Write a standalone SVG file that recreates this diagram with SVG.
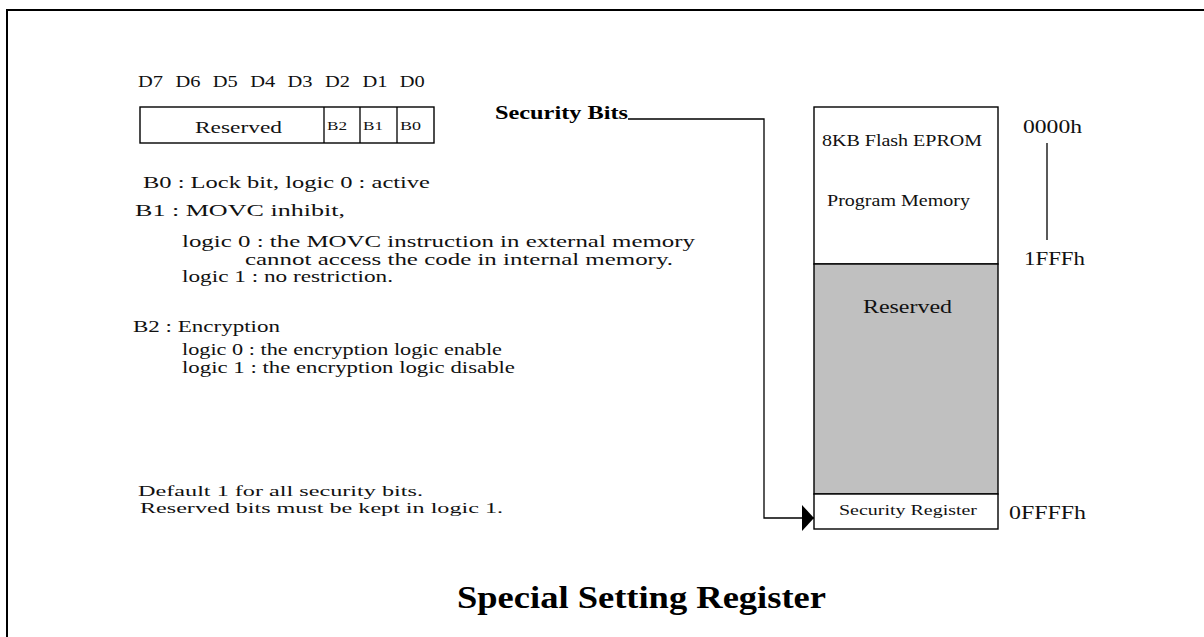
<svg xmlns="http://www.w3.org/2000/svg" width="1204" height="637" viewBox="0 0 1204 637">
<defs>
<style>
.t{font-family:"Liberation Serif","Times New Roman",serif;fill:#111;}
.b{font-family:"Liberation Serif","Times New Roman",serif;font-weight:bold;fill:#000;}
.box{fill:#fff;stroke:#000;stroke-width:1.4;}
.ln{fill:none;stroke:#000;stroke-width:1.3;}
</style>
<marker id="arr" markerWidth="12" markerHeight="26" refX="12" refY="13" orient="auto" markerUnits="userSpaceOnUse">
<path d="M0,0 L12,13 L0,26 Z" fill="#000"/>
</marker>
</defs>
<rect width="1204" height="637" fill="#fff"/>
<path d="M7,637 V10 H1204" fill="none" stroke="#000" stroke-width="2"/>

<g id="bit-labels" class="t" font-size="16">
<text x="138" y="87" textLength="25" lengthAdjust="spacingAndGlyphs">D7</text>
<text x="175.4" y="87" textLength="25" lengthAdjust="spacingAndGlyphs">D6</text>
<text x="212.8" y="87" textLength="25" lengthAdjust="spacingAndGlyphs">D5</text>
<text x="250.2" y="87" textLength="25" lengthAdjust="spacingAndGlyphs">D4</text>
<text x="287.6" y="87" textLength="25" lengthAdjust="spacingAndGlyphs">D3</text>
<text x="325" y="87" textLength="25" lengthAdjust="spacingAndGlyphs">D2</text>
<text x="362.4" y="87" textLength="25" lengthAdjust="spacingAndGlyphs">D1</text>
<text x="399.8" y="87" textLength="25" lengthAdjust="spacingAndGlyphs">D0</text>
</g>

<g id="register-table">
<rect class="box" x="140" y="107" width="294" height="36"/>
<path class="ln" d="M324,107 V143 M360,107 V143 M397,107 V143"/>
<text class="t" x="195" y="133" font-size="17" textLength="87" lengthAdjust="spacingAndGlyphs">Reserved</text>
<text class="t" x="327" y="130" font-size="13" textLength="20" lengthAdjust="spacingAndGlyphs">B2</text>
<text class="t" x="363" y="130" font-size="13" textLength="20" lengthAdjust="spacingAndGlyphs">B1</text>
<text class="t" x="400" y="130" font-size="13" textLength="21" lengthAdjust="spacingAndGlyphs">B0</text>
</g>

<g id="bit-descriptions" class="t" font-size="16.5">
<text x="143" y="188" textLength="287" lengthAdjust="spacingAndGlyphs">B0 : Lock bit, logic 0 : active</text>
<text x="135" y="216" textLength="210" lengthAdjust="spacingAndGlyphs">B1 : MOVC inhibit,</text>
<text x="182" y="247" textLength="513" lengthAdjust="spacingAndGlyphs">logic 0 : the MOVC instruction in external memory</text>
<text x="245" y="265" textLength="428" lengthAdjust="spacingAndGlyphs">cannot access the code in internal memory.</text>
<text x="182" y="282" textLength="211" lengthAdjust="spacingAndGlyphs">logic 1 : no restriction.</text>
<text x="133" y="332" textLength="147" lengthAdjust="spacingAndGlyphs">B2 : Encryption</text>
<text x="182" y="355" textLength="320" lengthAdjust="spacingAndGlyphs">logic 0 : the encryption logic enable</text>
<text x="182" y="373" textLength="333" lengthAdjust="spacingAndGlyphs">logic 1 : the encryption logic disable</text>
</g>

<g id="notes" class="t" font-size="15">
<text x="138" y="496" textLength="285" lengthAdjust="spacingAndGlyphs">Default 1 for all security bits.</text>
<text x="140" y="513" textLength="363" lengthAdjust="spacingAndGlyphs">Reserved bits must be kept in logic 1.</text>
</g>

<g id="security-bits-label">
<text class="b" x="495" y="119" font-size="18" textLength="133" lengthAdjust="spacingAndGlyphs">Security Bits</text>
</g>

<g id="memory-map">
<rect class="box" x="814" y="107" width="184" height="157"/>
<rect x="814" y="264" width="184" height="230" fill="#c0c0c0" stroke="#000" stroke-width="1.4"/>
<rect class="box" x="814" y="494" width="184" height="35"/>
<text class="t" x="822" y="146" font-size="16" textLength="160" lengthAdjust="spacingAndGlyphs">8KB Flash EPROM</text>
<text class="t" x="827" y="206" font-size="16" textLength="143" lengthAdjust="spacingAndGlyphs">Program Memory</text>
<text class="t" x="863" y="313" font-size="18" textLength="89" lengthAdjust="spacingAndGlyphs">Reserved</text>
<text class="t" x="839" y="515" font-size="15" textLength="138" lengthAdjust="spacingAndGlyphs">Security Register</text>
</g>

<g id="addresses" class="t" font-size="19">
<text x="1023" y="133" textLength="59" lengthAdjust="spacingAndGlyphs">0000h</text>
<path class="ln" d="M1047,143 V240"/>
<text x="1024" y="265" textLength="61" lengthAdjust="spacingAndGlyphs">1FFFh</text>
<text x="1009" y="519" textLength="77" lengthAdjust="spacingAndGlyphs">0FFFFh</text>
</g>

<g id="connectors">
<path class="ln" d="M628,119 H764 V518 H814" marker-end="url(#arr)"/>
</g>

<g id="title">
<text class="b" x="457" y="608" font-size="31" textLength="369" lengthAdjust="spacingAndGlyphs">Special Setting Register</text>
</g>
</svg>
